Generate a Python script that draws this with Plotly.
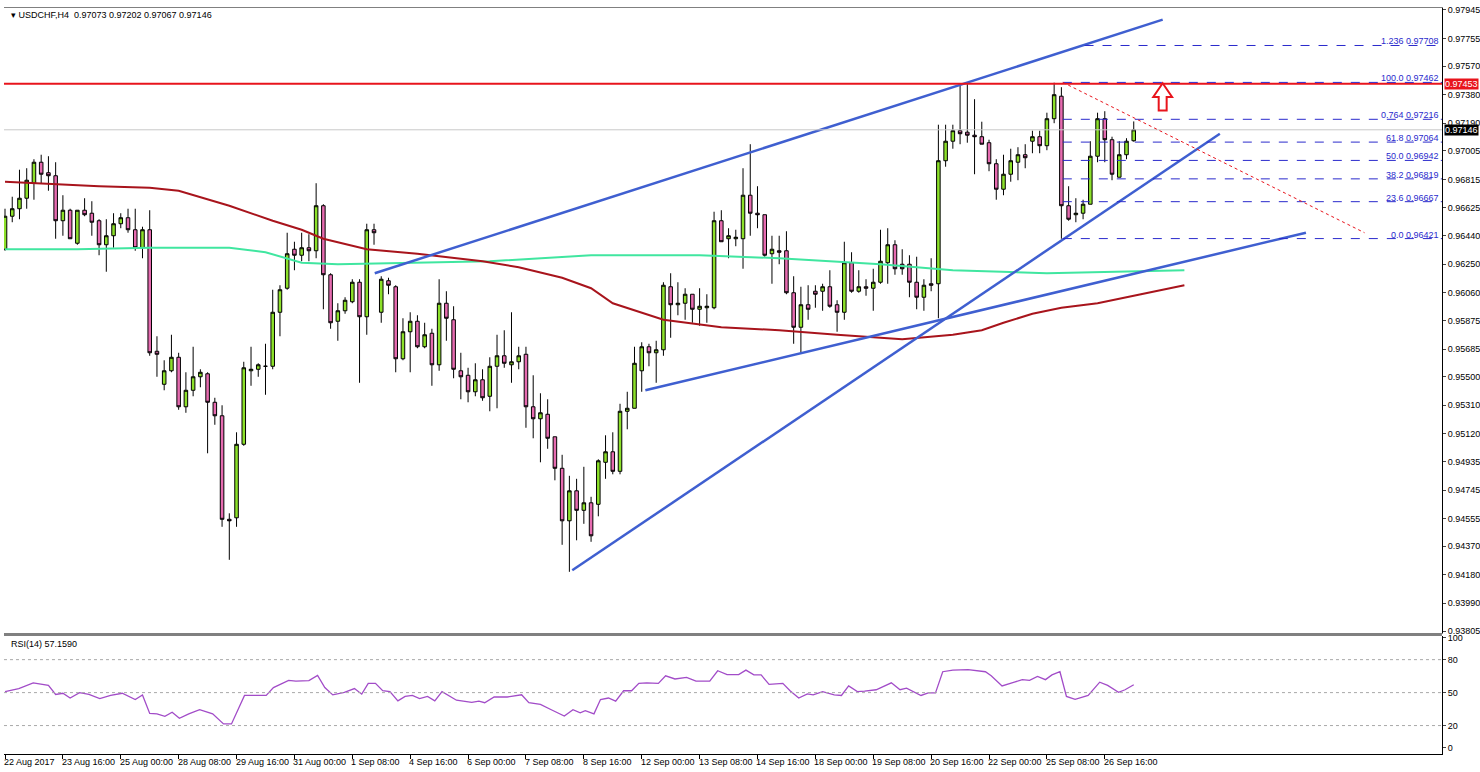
import plotly.graph_objects as go

# USDCHF H4 candles (bar index 0..156)
opens = [.9635,.9657,.9662,.9669,.9679,.9693,.9686,.9684,.9654,.9661,
         .9639,.9661,.9659,.9654,.9638,.9644,.9652,.9656,.9648,.9636,
         .9648,.9567,.9545,.9554,.9563,.9530,.9541,.9550,.9552,.9533,
         .9524,.9455,.9456,.9505,.9554,.9555,.9557,.9557,.9593,.9609,
         .9635,.9631,.9636,.9634,.9664,.9618,.9587,.9594,.9600,.9613,
         .9590,.9648,.9593,.9614,.9610,.9562,.9580,.9587,.9570,.9579,
         .9558,.9599,.9588,.9554,.9551,.9540,.9548,.9537,.9557,.9564,
         .9558,.9560,.9565,.9530,.9522,.9525,.9510,.9489,.9454,.9474,
         .9461,.9466,.9465,.9493,.9500,.9487,.9527,.9529,.9554,.9570,
         .9566,.9568,.9610,.9598,.9599,.9605,.9595,.9596,.9596,.9654,
         .9642,.9642,.9642,.9671,.9659,.9658,.9632,.9634,.9634,.9606,
         .9583,.9598,.9607,.9607,.9610,.9598,.9593,.9626,.9607,.9610,
         .9609,.9613,.9626,.9638,.9625,.9625,.9613,.9603,.9612,.9612,
         .9694,.9707,.9714,.9713,.9711,.9710,.9706,.9692,.9675,.9685,
         .9693,.9698,.9707,.9710,.9704,.9722,.9737,.9664,.9658,.9659,
         .9665,.9697,.9722,.9708,.9683,.9698,.97073]
highs = [.9662,.9670,.9688,.9689,.9695,.9698,.9697,.9693,.9671,.9662,
         .9661,.9669,.9667,.9655,.9655,.9659,.9659,.9662,.9662,.9650,
         .9661,.9577,.9561,.9578,.9566,.9553,.9570,.9555,.9553,.9536,
         .9531,.9459,.9513,.9560,.9570,.9559,.9572,.9608,.9611,.9646,
         .9640,.9646,.9645,.9679,.9665,.9619,.9599,.9603,.9615,.9615,
         .9652,.9652,.9617,.9616,.9611,.9589,.9593,.9591,.9586,.9582,
         .9615,.9607,.9597,.9566,.9556,.9559,.9555,.9563,.9578,.9581,
         .9593,.9570,.9570,.9551,.9539,.9535,.9510,.9498,.9484,.9482,
         .9490,.9470,.9495,.9511,.9513,.9532,.9540,.9570,.9573,.9572,
         .9574,.9613,.9619,.9613,.9609,.9605,.9609,.9605,.9660,.9661,
         .9649,.9648,.9689,.9705,.9677,.9658,.9644,.9644,.9647,.9617,
         .9610,.9611,.9611,.9612,.9621,.9601,.9640,.9633,.9621,.9615,
         .9622,.9648,.9649,.9641,.9635,.9631,.9630,.9615,.9629,.9718,
         .9718,.9718,.9744,.9745,.9735,.9720,.9708,.9695,.9698,.9702,
         .9703,.9705,.9714,.9714,.9726,.9746,.9743,.9677,.9669,.9668,
         .9707,.9726,.9727,.9710,.9707,.9709,.97202]
lows = [.9634,.9653,.9655,.9662,.9668,.9679,.9674,.9642,.9644,.9642,
        .9638,.9657,.9644,.9631,.9620,.9636,.9649,.9646,.9634,.9629,
        .9564,.9550,.9541,.9553,.9528,.9526,.9537,.9543,.9499,.9518,
        .9450,.9428,.9450,.9504,.9544,.9550,.9538,.9555,.9577,.9608,
        .9621,.9627,.9627,.9629,.9595,.9582,.9574,.9592,.9599,.9546,
        .9578,.9638,.9586,.9605,.9553,.9561,.9553,.9569,.9569,.9544,
        .9554,.9574,.9549,.9535,.9533,.9537,.9534,.9527,.9529,.9556,
        .9546,.9555,.9516,.9509,.9493,.9502,.9481,.9438,.9420,.9441,
        .9452,.9440,.9457,.9482,.9485,.9485,.9515,.9529,.9540,.9557,
        .9546,.9564,.9576,.9591,.9588,.9586,.9584,.9586,.9595,.9640,
        .9629,.9637,.9622,.9644,.9649,.9630,.9612,.9625,.9605,.9572,
        .9566,.9588,.9596,.9594,.9596,.9580,.9588,.9606,.9606,.9604,
        .9594,.9612,.9612,.9618,.9618,.9603,.9595,.9594,.9607,.9589,
        .9690,.9702,.9705,.9706,.9685,.9705,.9687,.9668,.9671,.9680,
        .9681,.9689,.9699,.9699,.9701,.9719,.9642,.9654,.9653,.9655,
        .9665,.9693,.9693,.9681,.9683,.9695,.97067]
closes = [.9657,.9662,.9669,.9681,.9693,.9685,.9684,.9654,.9661,.9642,
          .9661,.9658,.9653,.9638,.9644,.9652,.9656,.9648,.9636,.9648,
          .9566,.9565,.9554,.9563,.9530,.9541,.9550,.9553,.9533,.9524,
          .9455,.9454,.9505,.9556,.9555,.9558,.9557,.9593,.9608,.9632,
          .9631,.9636,.9634,.9664,.9618,.9586,.9594,.9601,.9613,.9590,
          .9648,.9646,.9615,.9611,.9562,.9580,.9587,.9570,.9578,.9558,
          .9599,.9589,.9555,.9550,.9540,.9548,.9536,.9557,.9564,.9559,
          .9560,.9564,.9530,.9522,.9526,.9509,.9489,.9454,.9474,.9461,
          .9466,.9444,.9494,.9500,.9487,.9527,.9529,.9559,.9570,.9566,
          .9568,.9611,.9598,.9599,.9605,.9595,.9597,.9597,.9654,.9640,
          .9644,.9643,.9671,.9659,.9658,.9631,.9635,.9633,.9606,.9583,
          .9598,.9595,.9605,.9610,.9597,.9593,.9626,.9607,.9610,.9609,
          .9613,.9627,.9638,.9622,.9622,.9613,.9603,.9611,.9611,.9694,
          .9707,.9714,.9712,.9711,.9710,.9705,.9692,.9675,.9685,.9694,
          .9698,.9696,.9710,.9704,.9722,.9738,.9664,.9655,.9659,.9665,
          .9697,.9722,.9708,.9685,.9698,.9707,.97146]
bars = list(range(len(closes)))

# moving averages (shifted forward past the last bar)
ma_red_bar = [0, 13, 20, 24, 31, 37, 41, 44, 50, 57, 66, 71, 77, 81, 84, 91, 99, 107,
              115, 124, 131, 135, 138, 142, 146, 151, 157, 163]
ma_red = [.9680, .9677, .9676, .9674, .9664, .9654, .9648, .9642, .9635, .9632, .9627,
          .9623, .9616, .9609, .9599, .9588, .9583, .9581, .9578, .9575, .9578, .9581,
          .9586, .9592, .9596, .9599, .9605, .9611]
ma_green_bar = [0, 10, 20, 31, 36, 41, 46, 55, 67, 81, 96, 107, 121, 131, 144, 163]
ma_green = [.9635, .9635, .9636, .9636, .9633, .9626, .9625, .9626, .9627, .9631, .9631,
            .9629, .9625, .9621, .9619, .9621]

rsi_bar = [0, 1.9, 3.9, 6, 7, 8, 9, 10.3, 11.6, 13.1, 14.6, 16.2, 18, 19, 20, 21, 22.1, 23.1,
           24.1, 25.4, 26.9, 28.7, 30.2, 31.3, 33.1, 36.1, 37.1, 39.2, 40.2, 42, 43.2, 44.2,
           45.3, 46.9, 48.3, 49.3, 50.2, 51.2, 52.2, 53.2, 54.3, 55.3, 56.3, 57.3, 58.4, 59.4,
           60.4, 62.4, 64.5, 65.5, 66.3, 67.6, 69.4, 71.4, 72.4, 74, 75.5, 77.3, 78.5, 79.5,
           80.2, 81.4, 82.3, 83.4, 84.4, 85.5, 86.6, 87.6, 88.7, 90.3, 91.3, 92.6, 94.2, 95.5,
           97.4, 98.5, 99.8, 101.4, 102.4, 103.5, 104.5, 105.6, 107.5, 108.5, 109.7, 110.9,
           111.7, 113, 114.6, 115.6, 116.6, 117.8, 118.8, 120.4, 122.5, 123.7, 124.6, 126.6,
           127.6, 128.6, 129.6, 131, 133.1, 135.5, 136.3, 137.8, 139.5, 140.6, 141.6, 142.7,
           143.8, 144.7, 145.8, 146.7, 147.9, 149.7, 151.3, 152.4, 153.9, 154.8, 156]
rsi_val = [50.9, 53.7, 58.9, 56.6, 48.3, 49.4, 45.0, 50.0, 48.3, 44.5, 47.4, 49.4, 43.7, 47.9,
           31.0, 30.7, 28.4, 32.1, 26.6, 30.7, 34.4, 30.7, 21.5, 21.5, 47.4, 47.4, 54.6, 61.2,
           60.4, 60.9, 65.6, 54.6, 47.9, 50.3, 53.7, 48.6, 58.4, 58.4, 51.7, 50.9, 42.5, 46.5,
           47.4, 44.5, 46.5, 42.5, 50.9, 43.1, 41.1, 42.2, 40.8, 46.0, 46.0, 48.0, 40.8, 39.3,
           34.4, 28.7, 34.4, 31.6, 33.6, 30.7, 43.7, 45.1, 42.2, 51.7, 51.7, 58.4, 58.9, 58.4,
           65.3, 62.4, 63.8, 60.4, 60.4, 69.9, 66.4, 66.4, 70.5, 66.1, 66.1, 57.5, 58.4, 51.7,
           45.1, 48.8, 48.0, 50.9, 48.0, 47.4, 56.1, 50.9, 51.4, 52.6, 58.9, 52.6, 54.0, 47.4,
           49.7, 49.7, 69.0, 70.5, 71.0, 69.0, 65.3, 56.1, 59.5, 61.8, 61.2, 64.7, 61.8, 66.1,
           69.0, 46.5, 43.9, 47.4, 59.5, 56.6, 50.3, 52.6, 57.2]

price_ticks = [0.97945, 0.97755, 0.97570, 0.97380, 0.97190, 0.97005, 0.96815, 0.96625,
               0.96440, 0.96250, 0.96060, 0.95875, 0.95685, 0.95500, 0.95310, 0.95120,
               0.94935, 0.94745, 0.94555, 0.94370, 0.94180, 0.93990, 0.93805]
date_labels = ["22 Aug 2017", "23 Aug 16:00", "25 Aug 00:00", "28 Aug 08:00", "29 Aug 16:00",
               "31 Aug 00:00", "1 Sep 08:00", "4 Sep 16:00", "6 Sep 00:00", "7 Sep 08:00",
               "8 Sep 16:00", "12 Sep 00:00", "13 Sep 08:00", "14 Sep 16:00", "18 Sep 00:00",
               "19 Sep 08:00", "20 Sep 16:00", "22 Sep 00:00", "25 Sep 08:00", "26 Sep 16:00"]

fib_labels = ["1.236", "100.0", "0.764", "61.8", "50.0", "38.2", "23.6", "0.0"]
fib_levels = [0.97708, 0.97462, 0.97216, 0.97064, 0.96942, 0.96819, 0.96667, 0.96421]

# trend lines (bar, price)
trend_lines = [([51.1, 160.0], [0.9619, 0.9788]),
               ([78.4, 167.9], [0.9421, 0.9712]),
               ([88.5, 179.8], [0.9541, 0.9646])]

resistance = 0.97453
last_price = 0.97146
XR = [-0.14, 198.6]
FONT = "Liberation Sans"
BLUE = "#3F5FD0"

fig = go.Figure()

fig.add_trace(go.Candlestick(
    x=bars, open=opens, high=highs, low=lows, close=closes,
    increasing=dict(line=dict(color="black", width=1), fillcolor="#8CE02A"),
    decreasing=dict(line=dict(color="black", width=1), fillcolor="#E66BB0"),
    whiskerwidth=0, xaxis="x", yaxis="y", hoverinfo="skip"))

fig.add_trace(go.Scatter(x=ma_green_bar, y=ma_green, mode="lines", line=dict(color="#40E6A0", width=2), xaxis="x", yaxis="y"))
fig.add_trace(go.Scatter(x=ma_red_bar, y=ma_red, mode="lines", line=dict(color="#A8141C", width=2), xaxis="x", yaxis="y"))

for tx, ty in trend_lines:
    fig.add_trace(go.Scatter(x=tx, y=ty, mode="lines", line=dict(color=BLUE, width=2.5), xaxis="x", yaxis="y"))

fig.add_trace(go.Scatter(x=rsi_bar, y=rsi_val, mode="lines", line=dict(color="#A24CC8", width=1.3), xaxis="x2", yaxis="y2"))

shapes = []
# horizontal resistance and current price
shapes.append(dict(type="line", xref="x domain", yref="y", x0=0, x1=1, y0=resistance, y1=resistance, line=dict(color="#E8141C", width=2)))
shapes.append(dict(type="line", xref="x domain", yref="y", x0=0, x1=1, y0=last_price, y1=last_price, line=dict(color="#C8C8C8", width=1)))
# fibonacci
for lab, lv in zip(fib_labels, fib_levels):
    x0 = 149.2 if lab == "1.236" else 146.2
    shapes.append(dict(type="line", xref="x", yref="y", x0=x0, x1=XR[1], y0=lv, y1=lv, line=dict(color="#2A2ACC", width=1, dash="dash")))
# red dashed diagonal
shapes.append(dict(type="line", xref="x", yref="y", x0=146.2, x1=187.9, y0=0.97462, y1=0.9646, line=dict(color="#E8141C", width=1, dash="dot")))
# arrow
shapes.append(dict(type="path", xref="x", yref="y",
                   path="M 160,0.97456 L 161.3,0.97365 L 160.55,0.97365 L 160.55,0.97275 L 159.45,0.97275 L 159.45,0.97365 L 158.7,0.97365 Z",
                   line=dict(color="#E8141C", width=2), fillcolor="white"))
# rsi levels
for lv in [80, 50, 20]:
    shapes.append(dict(type="line", xref="x2 domain", yref="y2", x0=0, x1=1, y0=lv, y1=lv, line=dict(color="#A8A8A8", width=1, dash="dot")))
# separator between panes
shapes.append(dict(type="line", xref="paper", yref="paper", x0=0.0027, x1=0.9743, y0=0.1755, y1=0.1755, line=dict(color="#808080", width=3)))

annotations = []
annotations.append(dict(x=0.006, y=0.994, xref="paper", yref="paper", xanchor="left", yanchor="top", showarrow=False,
                        text="▾ USDCHF,H4  0.97073 0.97202 0.97067 0.97146", font=dict(family=FONT, size=9, color="black")))
annotations.append(dict(x=0.006, y=0.172, xref="paper", yref="paper", xanchor="left", yanchor="top", showarrow=False,
                        text="RSI(14) 57.1590", font=dict(family=FONT, size=9, color="black")))
for lab, lv in zip(fib_labels, fib_levels):
    annotations.append(dict(x=0.9735, y=lv, xref="paper", yref="y", xanchor="right", yanchor="bottom", showarrow=False,
                            text=f"{lab} {lv:.5f}", font=dict(family=FONT, size=9, color="#2A2ACC"), yshift=-3))
for i, lab in enumerate(date_labels):
    annotations.append(dict(x=i * 8, y=0.0, xref="x2", yref="paper", xanchor="left", yanchor="bottom", showarrow=False,
                            text=lab, font=dict(family=FONT, size=9, color="black"), xshift=-3))
annotations.append(dict(x=0.9755, y=resistance, xref="paper", yref="y", xanchor="left", showarrow=False, text=f"{resistance:.5f}",
                        bgcolor="#E8141C", font=dict(family=FONT, size=9, color="white"), borderpad=0))
annotations.append(dict(x=0.9755, y=last_price, xref="paper", yref="y", xanchor="left", showarrow=False, text=f"{last_price:.5f}",
                        bgcolor="black", font=dict(family=FONT, size=9, color="white"), borderpad=0))

fig.update_layout(
    width=1480, height=772,
    margin=dict(l=0, r=0, t=0, b=0),
    paper_bgcolor="white", plot_bgcolor="white",
    showlegend=False,
    font=dict(family=FONT, size=9, color="black"),
    xaxis=dict(domain=[0.0027, 0.9743], range=XR, showgrid=False, zeroline=False, showticklabels=False,
               rangeslider=dict(visible=False), showline=True, linecolor="#808080", mirror=True, anchor="y"),
    yaxis=dict(domain=[0.1775, 0.9935], range=[0.93792, 0.97958], side="right", tickvals=price_ticks,
               ticktext=[f"{t:.5f}" for t in price_ticks], showgrid=False, zeroline=False, ticks="outside",
               ticklen=3, showline=True, linecolor="black", anchor="x"),
    xaxis2=dict(domain=[0.0027, 0.9743], range=XR, showgrid=False, zeroline=False, showticklabels=False,
                tickvals=[i * 8 for i in range(len(date_labels))], ticks="outside", ticklen=4, tickcolor="black",
                showline=True, linecolor="black", anchor="y2"),
    yaxis2=dict(domain=[0.0194, 0.1736], range=[-6, 101.5], side="right", tickvals=[0, 20, 50, 80, 100],
                showgrid=False, zeroline=False, ticks="outside", ticklen=3, showline=True, linecolor="black", anchor="x2"),
    shapes=shapes, annotations=annotations,
)

fig.write_html("out.html", config={"displayModeBar": False},
               post_script="document.body.style.margin='0';document.body.style.overflow='hidden';")
